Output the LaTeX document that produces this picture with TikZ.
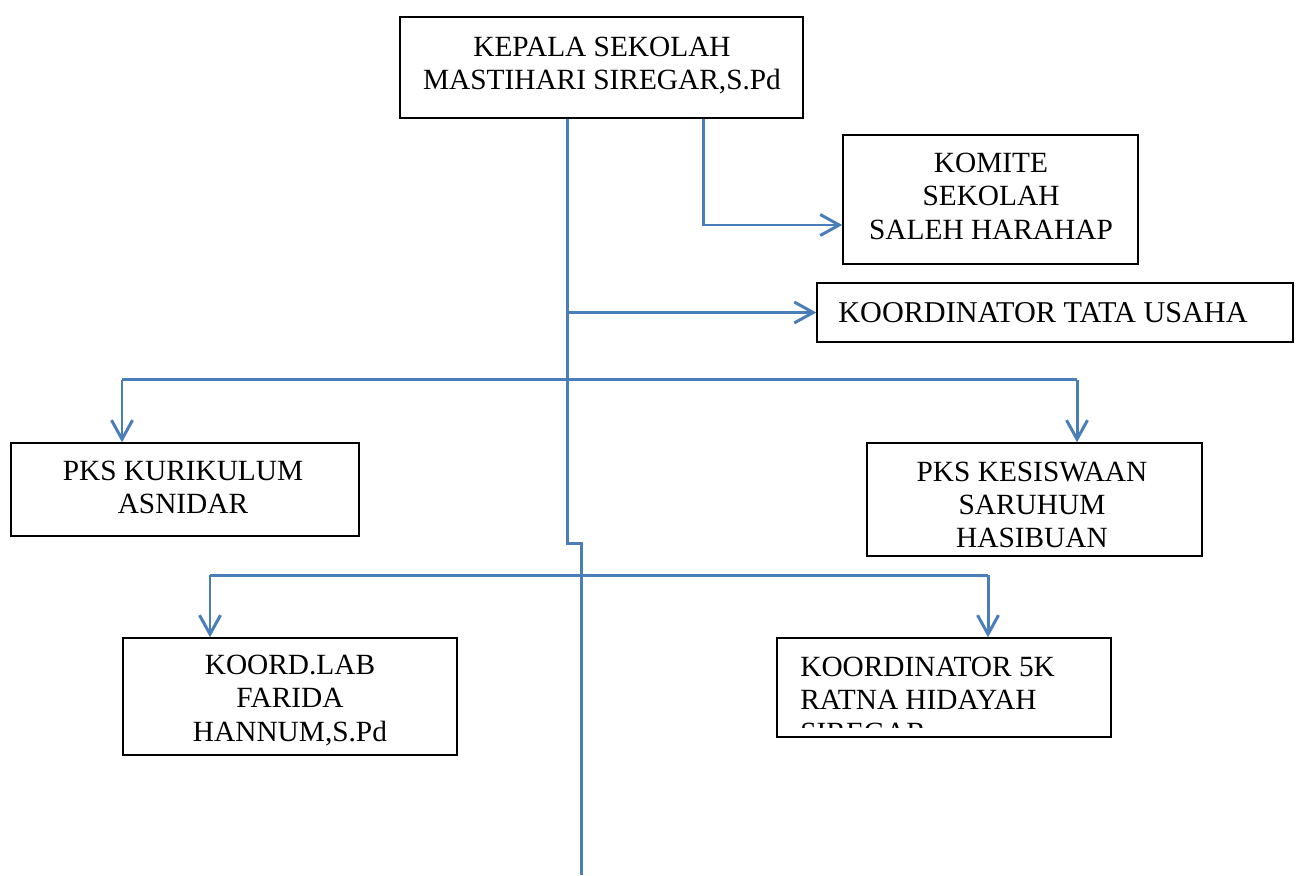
\documentclass[tikz,border=0pt]{standalone}
\usepackage{fontspec}
\setmainfont{Liberation Serif}
\usetikzlibrary{arrows.meta,calc}
\definecolor{conncol}{RGB}{74,126,187}
\tikzset{
  box/.style={draw=black, line width=0.85pt, inner sep=0pt},
  txt/.style={inner sep=0pt, align=center, font=\fontsize{16.7}{18.9}\selectfont},
  ltxt/.style={inner sep=0pt, align=left, font=\fontsize{16.7}{18.9}\selectfont},
  conn/.style={draw=conncol, line width=1.7pt},
  arr/.style={conn, -{Straight Barb[length=0.38cm,width=0.42cm]}},
}
\begin{document}
\begin{tikzpicture}[x=0.02cm, y=-0.02cm]
\useasboundingbox (0,0) rectangle (1300,875);
% boxes
\node[box, minimum width=8.06cm, minimum height=2.02cm] (kepala) at (601.5,67.5) {};
\node[box, minimum width=5.9cm, minimum height=2.58cm] (komite) at (990.5,199.5) {};
\node[box, minimum width=9.52cm, minimum height=1.18cm] (tata) at (1055,312.5) {};
\node[box, minimum width=6.96cm, minimum height=1.86cm] (kuri) at (185,489.5) {};
\node[box, minimum width=6.7cm, minimum height=2.26cm] (kesis) at (1034.5,499.5) {};
\node[box, minimum width=6.68cm, minimum height=2.34cm] (lab) at (290,696.5) {};
\node[box, minimum width=6.68cm, minimum height=1.98cm] (fivek) at (944,687.5) {};
% texts
\node[txt, anchor=north] (kepalaT) at (602,37) {KEPALA SEKOLAH\\MASTIHARI SIREGAR,S.Pd};
\node[txt, anchor=north] (komiteT) at (991,153) {KOMITE\\SEKOLAH\\SALEH HARAHAP};
\node[ltxt, anchor=north west, font=\fontsize{17.2}{18.9}\selectfont] (tataT) at (838,302) {KOORDINATOR TATA USAHA};
\node[txt, anchor=north] (kuriT) at (183,461) {PKS KURIKULUM\\ASNIDAR};
\begin{scope}
  \clip (867,443) rectangle (1202,547);
  \node[txt, anchor=north] (kesisT) at (1032,461.5) {PKS KESISWAAN\\SARUHUM\\HASIBUAN};
\end{scope}
\node[txt, anchor=north] (labT) at (290,655) {KOORD.LAB\\FARIDA\\HANNUM,S.Pd};
\begin{scope}
  \clip (777,638) rectangle (1111,727);
  \node[ltxt, anchor=north west] (fivekT) at (800,656.5) {KOORDINATOR 5K\\RATNA HIDAYAH\\SIREGAR};
\end{scope}
% junction coordinates
\coordinate (jog1) at (567,543);
\coordinate (jog2) at (581,543);
\coordinate (trunkEnd) at (581,875);
\coordinate (komTurn) at (703.5,225);
\coordinate (tataJ) at (567,312.5);
\coordinate (h1L) at (122,379.5);
\coordinate (h1R) at (1077,379.5);
\coordinate (h2L) at (210,575);
\coordinate (h2R) at (988,575);
% connectors
\draw[conn] (jog1 |- kepala.south) -- (jog1) -- (jog2) -- (trunkEnd);
\draw[arr] (komTurn |- kepala.south) -- (komTurn) -- (komTurn -| komite.west);
\draw[arr] (tataJ) -- (tataJ -| tata.west);
\draw[conn] (h1L) -- (h1R);
\draw[arr] (h1L) -- (h1L |- kuri.north);
\draw[arr] (h1R) -- (h1R |- kesis.north);
\draw[conn] (h2L) -- (h2R);
\draw[arr] (h2L) -- (h2L |- lab.north);
\draw[arr] (h2R) -- (h2R |- fivek.north);
\end{tikzpicture}
\end{document}
